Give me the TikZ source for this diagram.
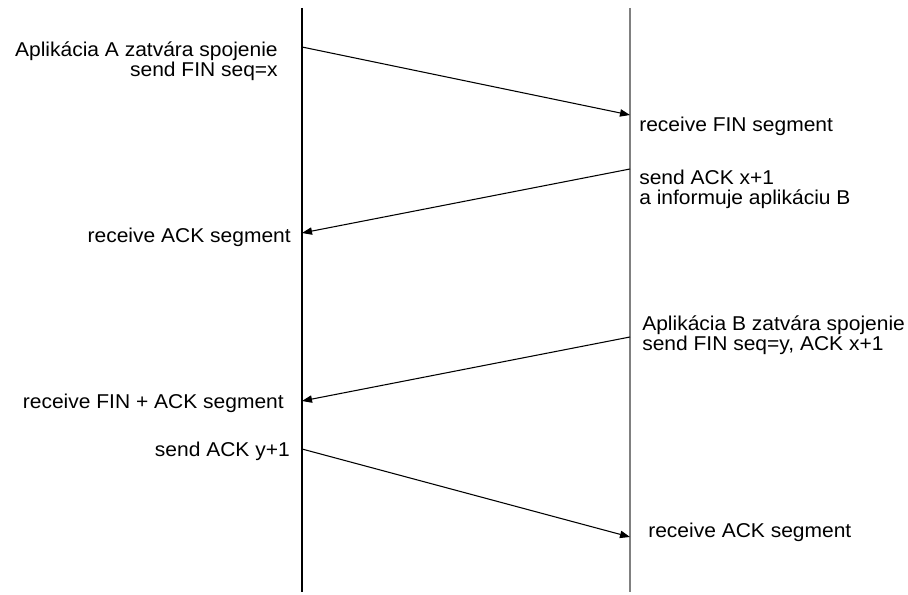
\documentclass[tikz,border=0pt]{standalone}
\usepackage{fontspec}
\setmainfont[FakeStretch=1.05]{Liberation Sans}
\usepackage{tikz}
\usetikzlibrary{arrows.meta}

\tikzset{
  msg/.style={draw, line width=0.8pt, -{Triangle[length=7.5pt,width=5.5pt]}},
  lifeline/.style={line width=0.9pt},
  lbl/.style={inner sep=0pt, font=\fontsize{15pt}{15pt}\selectfont}
}

\begin{document}
\begin{tikzpicture}[x=0.75pt,y=0.75pt,yscale=-1,xscale=1]
\useasboundingbox (0,0) rectangle (908,595);

%Coordinates on the lifelines
\coordinate (Atop) at (302,8);
\coordinate (Abot) at (302,592);
\coordinate (Btop) at (630,8);
\coordinate (Bbot) at (630,592);
\coordinate (a1) at (302,47);
\coordinate (b1) at (630,115);
\coordinate (b2) at (630,169);
\coordinate (a2) at (302,233);
\coordinate (b3) at (630,337);
\coordinate (a3) at (302,401);
\coordinate (a4) at (302,449);
\coordinate (b4) at (630,537);

%Straight Lines
\draw [lifeline] (Atop) -- (Abot) ;
%Straight Lines
\draw [lifeline, color={rgb, 255:red, 128; green, 128; blue, 128}] (Btop) -- (Bbot) ;
%Straight Lines
\draw [msg] (a1) -- (b1) ;
%Straight Lines
\draw [msg] (b2) -- (a2) ;
%Straight Lines
\draw [msg] (b3) -- (a3) ;
%Straight Lines
\draw [msg] (a4) -- (b4) ;

% Text Node
\node (closeA) [lbl, anchor=east, align=right] at (278,61) {Aplikácia A zatvára spojenie\\send FIN seq=x};
% Text Node
\node (recvfin) [lbl, anchor=west] at (639,126) {receive FIN segment};
\node (sendack) [lbl, anchor=west, align=left] at (639,189) {send ACK x+1\\a informuje aplikáciu B};
% Text Node
\node (recvack) [lbl, anchor=east] at (291,237) {receive ACK segment};
% Text Node
\node (closeB) [lbl, anchor=west, align=left] at (642,335) {Aplikácia B zatvára spojenie\\send FIN seq=y, ACK x+1};
% Text Node
\node (recvfinack) [lbl, anchor=east] at (284,403) {receive FIN + ACK segment};
\node (sendacky) [lbl, anchor=east] at (290,451) {send ACK y+1};
% Text Node
\node (recvackB) [lbl, anchor=west] at (648,532) {receive ACK segment};

\end{tikzpicture}
\end{document}
